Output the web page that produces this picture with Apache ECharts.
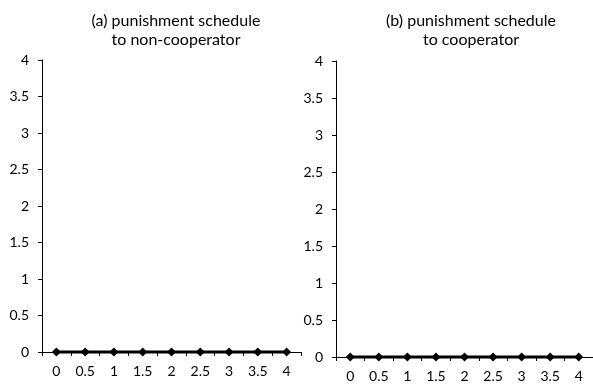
<!DOCTYPE html>
<html><head><meta charset="utf-8">
<script src="https://cdn.jsdelivr.net/npm/echarts@6/dist/echarts.min.js"></script>
<style>html,body{margin:0;padding:0;background:#fff}#c{width:593px;height:384px}</style>
</head><body><div id="c"></div>
<script>
const categories = ['0','0.5','1','1.5','2','2.5','3','3.5','4'];
const nonCooperatorValues = [0,0,0,0,0,0,0,0,0];
const cooperatorValues = [0,0,0,0,0,0,0,0,0];
const titleA = '(a) punishment schedule\nto non-cooperator';
const titleB = '(b) punishment schedule\nto cooperator';

const FONT = 'Lato';
const chart = echarts.init(document.getElementById('c'), null, {renderer:'canvas'});
const axisLine = {show:true, onZero:false, lineStyle:{color:'#000', width:1}};
function xAx(i){return {type:'category', gridIndex:i, data:categories, boundaryGap:true,
  axisLine:axisLine, axisTick:{show:true, alignWithLabel:false, length:4, lineStyle:{color:'#000'}},
  axisLabel:{color:'#000', fontFamily:FONT, fontSize:14, margin:12}, splitLine:{show:false}};}
function yAx(i){return {type:'value', gridIndex:i, min:0, max:4, interval:0.5,
  axisLine:axisLine, axisTick:{show:true, length:4, lineStyle:{color:'#000'}},
  axisLabel:{color:'#000', fontFamily:FONT, fontSize:14, margin:13}, splitLine:{show:false}};}
function ser(i, d){return {type:'line', xAxisIndex:i, yAxisIndex:i, data:d, symbol:'diamond', symbolSize:9,
  clip:false, showSymbol:true, lineStyle:{color:'#000', width:3}, itemStyle:{color:'#000'}, animation:false};}
chart.setOption({
  animation:false,
  title:[
    {text:titleA, left:171, top:6, textAlign:'center', textStyle:{fontFamily:FONT, fontSize:16, fontWeight:'normal', color:'#000', lineHeight:19}},
    {text:titleB, left:466, top:6, textAlign:'center', textStyle:{fontFamily:FONT, fontSize:16, fontWeight:'normal', color:'#000', lineHeight:19}}
  ],
  grid:[
    {left:42, top:60, width:259, height:292},
    {left:336, top:61, width:261, height:296}
  ],
  xAxis:[xAx(0), xAx(1)],
  yAxis:[yAx(0), yAx(1)],
  series:[ser(0, nonCooperatorValues), ser(1, cooperatorValues)]
});
</script></body></html>
